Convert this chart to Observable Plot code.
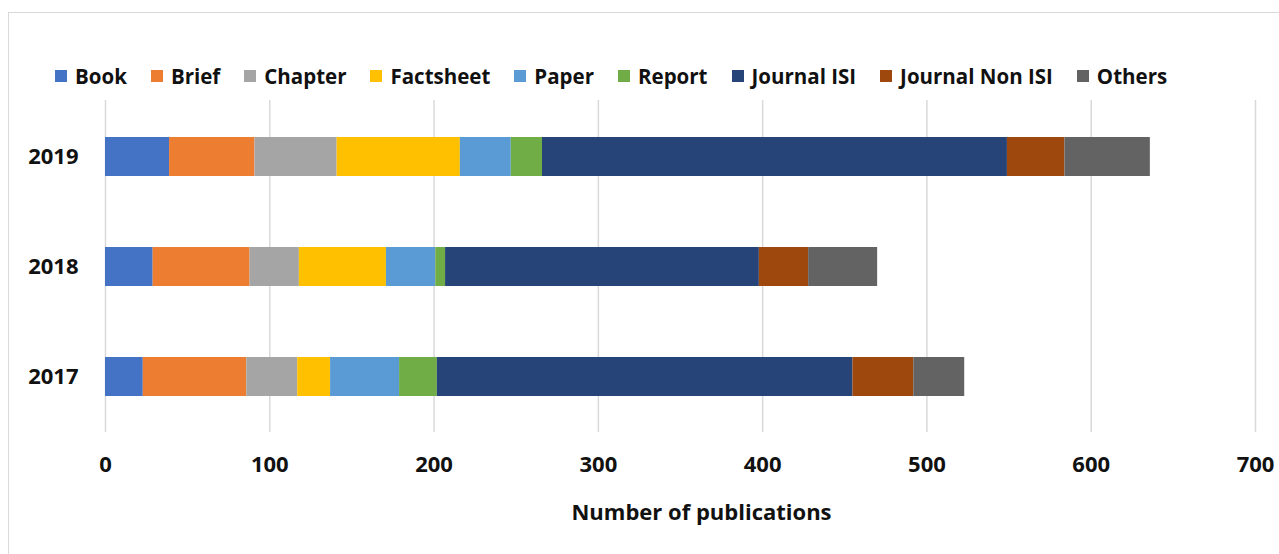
<!DOCTYPE html>
<html>
<head>
<meta charset="utf-8">
<script src="https://cdn.jsdelivr.net/npm/d3@7"></script>
<script src="https://cdn.jsdelivr.net/npm/@observablehq/plot@0.6"></script>
<style>
  html, body { margin: 0; padding: 0; background: #fff; }
  body { width: 1279px; height: 554px; overflow: hidden; position: relative; font-family: "Open Sans", "DejaVu Sans", sans-serif; }
  #frame { position: absolute; left: 8px; top: 12px; width: 1290px; height: 560px; border: 1px solid #d9d9d9; box-sizing: border-box; }
  #legend { position: absolute; left: 55px; top: 62px; display: flex; align-items: center; font-weight: 700; font-size: 20.5px; color: #111; white-space: nowrap; }
  .item { display: flex; align-items: center; margin-right: 24px; }
  .sw { width: 12px; height: 12px; margin-right: 8px; }
  #chart { position: absolute; left: 0; top: 95px; }
</style>
</head>
<body>
<div id="frame"></div>
<div id="legend"></div>
<div id="chart"></div>
<script>
const years = ["2019", "2018", "2017"];
const categories = ["Book", "Brief", "Chapter", "Factsheet", "Paper", "Report", "Journal ISI", "Journal Non ISI", "Others"];
const colors = ["#4472C4", "#ED7D31", "#A5A5A5", "#FFC000", "#5B9BD5", "#70AD47", "#264478", "#9E480E", "#636363"];
const values2019 = [39, 52, 50, 75, 31, 19, 283, 35, 52];
const values2018 = [29, 59, 30, 53, 30, 6, 191, 30, 42];
const values2017 = [23, 63, 31, 20, 42, 23, 253, 37, 31];
const xTicks = [0, 100, 200, 300, 400, 500, 600, 700];
const xTitle = "Number of publications";

const valuesByYear = {"2019": values2019, "2018": values2018, "2017": values2017};
const data = [];
for (const y of years) {
  categories.forEach((c, i) => data.push({year: y, category: c, value: valuesByYear[y][i]}));
}

// legend
const legend = document.getElementById("legend");
categories.forEach((c, i) => {
  const it = document.createElement("div");
  it.className = "item";
  const sw = document.createElement("span");
  sw.className = "sw";
  sw.style.background = colors[i];
  const t = document.createElement("span");
  t.textContent = c;
  it.appendChild(sw); it.appendChild(t);
  legend.appendChild(it);
});

const chart = Plot.plot({
  width: 1279,
  height: 450,
  marginLeft: 105,
  marginRight: 24,
  marginTop: 5,
  marginBottom: 113,
  style: {fontFamily: "'Open Sans', 'DejaVu Sans', sans-serif", fontSize: "22px", fontWeight: 700, color: "#111", background: "transparent"},
  x: {domain: [0, 700], ticks: xTicks, label: null},
  y: {domain: years, paddingInner: 0.65, paddingOuter: 0.325, label: null},
  color: {domain: categories, range: colors},
  marks: [
    Plot.gridX(xTicks, {stroke: "#d9d9d9", strokeOpacity: 1, strokeWidth: 1.5}),
    Plot.barX(data, {x: "value", y: "year", fill: "category"}),
    Plot.axisX({ticks: xTicks, tickSize: 0, tickPadding: 24, label: null, fontWeight: 700}),
    Plot.axisY({tickSize: 0, tickPadding: 27, label: null, fontWeight: 700}),
    Plot.text([xTitle], {frameAnchor: "bottom", dy: 87, dx: 21, text: d => d, fontWeight: 700, fontSize: 22})
  ]
});
document.getElementById("chart").appendChild(chart);
</script>
</body>
</html>
